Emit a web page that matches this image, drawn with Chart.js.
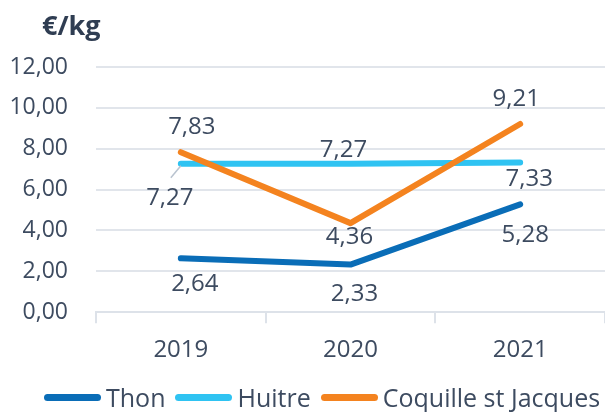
<!DOCTYPE html>
<html>
<head>
<meta charset="utf-8">
<script src="https://cdn.jsdelivr.net/npm/chart.js@4"></script>
<style>
  html, body { margin: 0; padding: 0; background: #fff; }
  #wrap { position: relative; width: 605px; height: 412px; }
  #unit { position: absolute; left: 42px; top: 6px; font: bold 27px "Open Sans", sans-serif; color: #2f3d52; }
  #legend { position: absolute; left: 44px; top: 380px; display: flex; align-items: center;
            font: 25px "Open Sans", sans-serif; color: #3d4b60; white-space: nowrap; }
  #legend .item { display: flex; align-items: center; margin-right: 10px; }
  #legend .swatch { width: 57px; height: 7px; border-radius: 4px; margin-right: 5px; }
</style>
</head>
<body>
<div id="wrap">
  <div id="unit">€/kg</div>
  <canvas id="c" width="605" height="412"></canvas>
  <div id="legend"></div>
</div>
<script>
// données
const years = ['2019', '2020', '2021'];
const thon = [2.64, 2.33, 5.28];
const huitre = [7.27, 7.27, 7.33];
const coquille = [7.83, 4.36, 9.21];
const yTicks = [0, 2, 4, 6, 8, 10, 12];

const textColor = '#3d4b60';
const fontFamily = '"Open Sans", sans-serif';

function fmt(v, d) {
    return v.toFixed(d).replace('.', ',');
}

// étiquettes de valeurs (dx, dy par point)
const valueLabels = {
    id: 'valueLabels',
    afterDatasetsDraw(chart) {
        const ctx = chart.ctx;
        ctx.save();
        ctx.font = '24px ' + fontFamily;
        ctx.fillStyle = textColor;
        ctx.textAlign = 'center';
        ctx.textBaseline = 'middle';
        chart.data.datasets.forEach((ds, i) => {
            const meta = chart.getDatasetMeta(i);
            meta.data.forEach((pt, j) => {
                const off = ds.labelOffsets[j];
                if (off[2]) {
                    ctx.strokeStyle = '#b9c3cf';
                    ctx.lineWidth = 1.5;
                    ctx.beginPath();
                    ctx.moveTo(pt.x, pt.y + 2);
                    ctx.lineTo(pt.x - 10, pt.y + 14);
                    ctx.stroke();
                }
                ctx.fillText(fmt(ds.data[j], 2), pt.x + off[0], pt.y + off[1]);
            });
        });
        ctx.restore();
    }
};

const chart = new Chart(document.getElementById('c'), {
    type: 'line',
    data: {
        labels: years,
        datasets: [{
            label: 'Thon',
            data: thon,
            borderColor: '#0a6db7',
            backgroundColor: '#0a6db7',
            order: 3,
            labelOffsets: [[14, 26], [4, 30], [5, 31]]
        }, {
            label: 'Huitre',
            data: huitre,
            borderColor: '#2fc3f2',
            backgroundColor: '#2fc3f2',
            order: 2,
            labelOffsets: [[-11, 35, true], [-7, -13], [9, 17]]
        }, {
            label: 'Coquille st Jacques',
            data: coquille,
            borderColor: '#f4831f',
            backgroundColor: '#f4831f',
            order: 1,
            labelOffsets: [[11, -25], [-1, 14], [-4, -25]]
        }]
    },
    options: {
        responsive: false,
        animation: false,
        events: [],
        layout: { padding: { top: 67, right: 0, bottom: 35, left: 0 } },
        elements: {
            line: { borderWidth: 6, borderCapStyle: 'round', borderJoinStyle: 'round', tension: 0 },
            point: { radius: 0 }
        },
        scales: {
            x: {
                offset: true,
                grid: { offset: true, drawOnChartArea: false, drawTicks: true, tickLength: 11, color: '#dde2e9', lineWidth: 2 },
                border: { color: '#dde2e9', width: 2 },
                ticks: { color: textColor, font: { family: fontFamily, size: 24 }, padding: 12.5 }
            },
            y: {
                min: 0,
                max: 12,
                afterFit(scale) { scale.width = 96; },
                afterBuildTicks(scale) { scale.ticks = yTicks.map(v => ({ value: v })); },
                grid: { color: '#e1e5eb', lineWidth: 2, drawTicks: false },
                border: { display: false },
                ticks: {
                    color: textColor,
                    font: { family: fontFamily, size: 23 },
                    padding: 28,
                    callback: v => fmt(v, 2)
                }
            }
        },
        plugins: {
            legend: { display: false },
            tooltip: { enabled: false }
        }
    },
    plugins: [valueLabels]
});

// légende HTML à partir des séries du graphique
const legendEl = document.getElementById('legend');
chart.data.datasets.forEach(ds => {
    const item = document.createElement('div');
    item.className = 'item';
    const sw = document.createElement('span');
    sw.className = 'swatch';
    sw.style.background = ds.borderColor;
    const txt = document.createElement('span');
    txt.textContent = ds.label;
    item.appendChild(sw);
    item.appendChild(txt);
    legendEl.appendChild(item);
});
</script>
</body>
</html>
